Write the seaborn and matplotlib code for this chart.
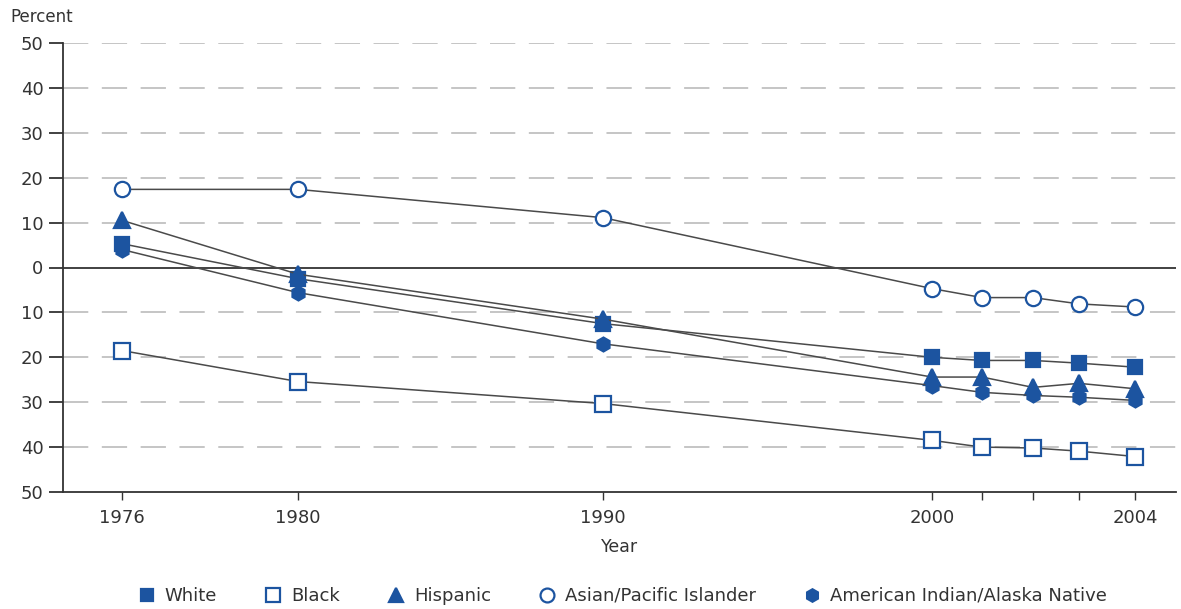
import numpy as np
import pandas as pd
import matplotlib
matplotlib.use("Agg")
import matplotlib.pyplot as plt
from matplotlib.lines import Line2D
from matplotlib.ticker import FuncFormatter
import seaborn as sns

# ---- data ----
years = [1976, 1980, 1990, 2000, 2001, 2002, 2003, 2004]
white = [5.3, -2.5, -12.5, -20.0, -20.7, -20.7, -21.3, -22.2]
black = [-18.5, -25.4, -30.3, -38.5, -40.0, -40.2, -40.9, -42.1]
hispanic = [10.5, -1.5, -11.5, -24.4, -24.4, -26.7, -25.8, -27.0]
asian = [17.4, 17.4, 11.1, -4.7, -6.7, -6.7, -8.1, -8.8]
amind = [4.0, -5.6, -17.0, -26.3, -27.8, -28.5, -28.9, -29.6]
series_names = ["White", "Black", "Hispanic", "Asian/Pacific Islander",
                "American Indian/Alaska Native"]
series_values = [white, black, hispanic, asian, amind]
labeled_years = [1976, 1980, 1990, 2000, 2004]
y_ticks = [50, 40, 30, 20, 10, 0, -10, -20, -30, -40, -50]

# ---- layout: horizontal placement of each year on the axis (as drawn in the source) ----
year_pos = {1976: 122, 1980: 298, 1990: 603, 2000: 932, 2001: 982,
            2002: 1033, 2003: 1079, 2004: 1135}

rows = []
for name, vals in zip(series_names, series_values):
    for yr, v in zip(years, vals):
        rows.append({"group": name, "year": yr, "pos": year_pos[yr], "value": v})
df = pd.DataFrame(rows)

sns.set_theme(style="white")
plt.rcParams["font.family"] = ["DejaVu Sans"]

BLUE = "#1c54a0"
LINE = "#4a4a4a"
TXT = "#333333"

styles = {
    "White": dict(marker="s", mfc=BLUE, mec=BLUE, ms=10),
    "Black": dict(marker="s", mfc="white", mec=BLUE, ms=11),
    "Hispanic": dict(marker="^", mfc=BLUE, mec=BLUE, ms=11),
    "Asian/Pacific Islander": dict(marker="o", mfc="white", mec=BLUE, ms=11),
    "American Indian/Alaska Native": dict(marker="h", mfc=BLUE, mec=BLUE, ms=10),
}

fig = plt.figure(figsize=(11.81, 6.09), dpi=100)
ax = fig.add_axes([63 / 1181, 1 - 492 / 609, (1176 - 63) / 1181, (492 - 43) / 609])

DASH = (0, (14, 7.5))
for y in y_ticks:
    if y in (0, -50):
        continue
    ax.axhline(y, color="#c0c0c0", lw=1.3, ls=DASH, zorder=0)
ax.axhline(0, color="#333333", lw=1.3, zorder=1)

for name in series_names:
    st = styles[name]
    sub = df[df["group"] == name]
    sns.lineplot(data=sub, x="pos", y="value", ax=ax, color=LINE, lw=1.1,
                 marker=st["marker"], markersize=st["ms"],
                 markerfacecolor=st["mfc"], markeredgecolor=st["mec"],
                 markeredgewidth=1.6, zorder=3, legend=False, sort=False)

ax.set_xlim(63, 1176)
ax.set_ylim(-50, 50)
ax.set_yticks(y_ticks)
ax.yaxis.set_major_formatter(FuncFormatter(lambda v, p: f"{abs(int(round(v)))}"))
ax.set_xticks([year_pos[y] for y in years])
ax.set_xticklabels([str(y) if y in labeled_years else "" for y in years])

for s in ["top", "right"]:
    ax.spines[s].set_visible(False)
for s in ["left", "bottom"]:
    ax.spines[s].set_color("#333333")
    ax.spines[s].set_linewidth(1.3)

ax.tick_params(axis="y", which="both", left=True, length=10, width=1.3,
               color="#333333", labelsize=13, labelcolor=TXT, pad=4)
ax.tick_params(axis="x", which="both", bottom=True, length=6, width=1.0,
               color="#333333", labelsize=13, labelcolor=TXT, pad=6)
ax.set_xlabel("Year", fontsize=12.5, color=TXT, labelpad=8)
ax.set_ylabel("")
fig.text(10 / 1181, 1 - 17 / 609, "Percent", fontsize=12, color=TXT, va="center", ha="left")

handles = []
for name in series_names:
    st = styles[name]
    handles.append(Line2D([], [], ls="none", marker=st["marker"], markersize=st["ms"] - 1,
                          markerfacecolor=st["mfc"], markeredgecolor=st["mec"],
                          markeredgewidth=1.6))
leg = fig.legend(handles, series_names, loc="center", bbox_to_anchor=(0.527, 1 - 596 / 609),
                 ncol=5, frameon=False, fontsize=13, handletextpad=0.5,
                 columnspacing=2.6, handlelength=1.0)
for t in leg.get_texts():
    t.set_color(TXT)

fig.savefig("out.png", dpi=100)
